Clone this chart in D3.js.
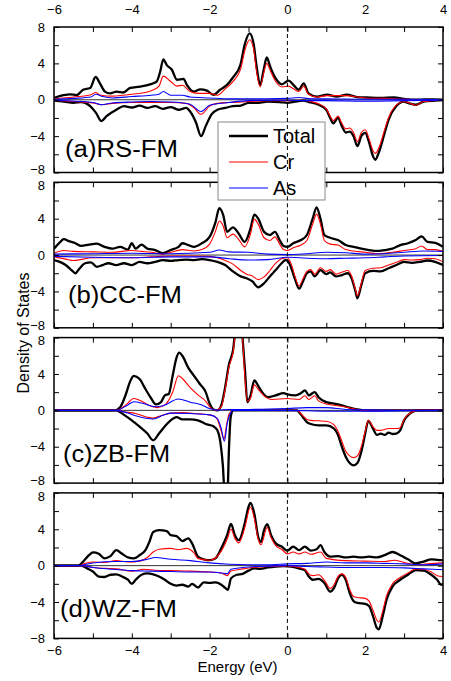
<!DOCTYPE html>
<html><head><meta charset="utf-8">
<script src="https://cdn.jsdelivr.net/npm/d3@7/dist/d3.min.js"></script>
<style>
body{margin:0;background:#fff}
svg{display:block}
text{font-family:"Liberation Sans",Arial,Helvetica,sans-serif;fill:#000}
</style>
</head><body>
<svg id="chart" width="451" height="681"></svg>
<script>
// ---------- DATA (energy in eV, DOS in states/eV) ----------
const xTicks = [-6,-4,-2,0,2,4];
const yTicks = [-8,-4,0,4,8];
const panelLabels = ["(a)RS-FM","(b)CC-FM","(c)ZB-FM","(d)WZ-FM"];
const legendNames = ["Total","Cr","As"];

// (a) RS-FM
const rsTotalUp = [[-6,0.2],[-5.76,0.5],[-5.59,0.6],[-5.42,0.5],[-5.25,1.1],[-5.07,1.3],[-4.93,2.5],[-4.82,1.8],[-4.69,0.9],[-4.56,0.7],[-4.39,0.9],[-4.22,0.8],[-4.04,1.3],[-3.79,1.45],[-3.53,1.7],[-3.36,2.0],[-3.27,3.1],[-3.19,4.45],[-3.1,3.8],[-2.97,3.3],[-2.84,2.2],[-2.67,2.3],[-2.58,1.6],[-2.41,0.9],[-2.24,1.15],[-2.07,1.0],[-1.9,0.55],[-1.73,1.1],[-1.56,1.6],[-1.39,2.5],[-1.21,3.8],[-1.09,6.2],[-0.97,7.3],[-0.87,6.2],[-0.79,3.6],[-0.7,1.6],[-0.61,3.3],[-0.53,4.65],[-0.44,3.6],[-0.31,2.4],[-0.14,1.7],[0.03,2.1],[0.16,1.6],[0.29,1.1],[0.42,1.8],[0.54,0.7],[0.76,0.35],[1.02,0.55],[1.27,0.35],[1.53,0.55],[1.79,0.3],[2.05,0.25],[2.39,0.2],[2.73,0.25],[2.99,0.1],[3.33,0],[3.76,0.05],[4,0]];
const rsCrUp = [[-6,0.1],[-5.5,0.3],[-5.05,0.55],[-4.93,0.8],[-4.8,0.5],[-4.5,0.4],[-4.0,0.6],[-3.5,1.0],[-3.3,1.5],[-3.19,2.6],[-3.0,2.0],[-2.84,1.5],[-2.7,1.6],[-2.5,0.9],[-2.3,0.7],[-2.0,0.7],[-1.8,0.5],[-1.6,1.2],[-1.4,2.0],[-1.2,3.4],[-1.09,5.5],[-0.97,6.6],[-0.87,5.6],[-0.79,3.0],[-0.7,1.4],[-0.61,2.9],[-0.53,4.0],[-0.44,3.2],[-0.3,2.0],[-0.14,1.4],[0.03,1.5],[0.16,1.2],[0.29,0.9],[0.42,1.5],[0.54,0.6],[0.76,0.3],[1.0,0.45],[1.5,0.45],[2.0,0.2],[2.5,0.15],[3.0,0.05],[4,0]];
const rsAsUp = [[-6,0.05],[-5.5,0.15],[-5.05,0.3],[-4.93,0.6],[-4.75,0.35],[-4.5,0.2],[-4.0,0.35],[-3.5,0.5],[-3.3,0.6],[-3.19,0.9],[-3.0,0.5],[-2.7,0.5],[-2.5,0.3],[-2.0,0.2],[-1.5,0.1],[-1.0,0.1],[-0.5,0.1],[0,0.15],[0.3,0.25],[0.6,0.1],[1.0,0.1],[2.0,0.05],[3.0,0.05],[4,0]];
const rsTotalDn = [[-6,-0.1],[-5.75,-0.2],[-5.5,-0.35],[-5.3,-0.25],[-5.07,-0.7],[-4.92,-1.45],[-4.78,-2.35],[-4.65,-1.8],[-4.4,-1.1],[-4.2,-0.7],[-4.0,-0.85],[-3.8,-0.65],[-3.6,-0.9],[-3.4,-0.7],[-3.2,-1.0],[-3.0,-0.8],[-2.8,-1.1],[-2.6,-0.9],[-2.5,-1.3],[-2.35,-2.5],[-2.22,-4.0],[-2.1,-2.9],[-1.95,-1.6],[-1.8,-1.1],[-1.6,-0.9],[-1.4,-0.7],[-1.2,-0.65],[-1.0,-0.35],[-0.8,-0.35],[-0.5,-0.2],[-0.2,-0.25],[0,-0.35],[0.2,-0.2],[0.4,-0.1],[0.6,-0.3],[0.8,-0.55],[1.0,-1.1],[1.1,-2.0],[1.18,-2.6],[1.3,-2.0],[1.4,-2.9],[1.5,-3.6],[1.6,-3.5],[1.7,-4.0],[1.8,-5.1],[1.9,-4.0],[2.0,-3.65],[2.1,-4.7],[2.2,-6.2],[2.26,-6.6],[2.35,-5.8],[2.5,-3.65],[2.6,-2.2],[2.8,-0.7],[3.0,-0.2],[3.1,-0.35],[3.3,-0.55],[3.5,-0.2],[3.8,-0.1],[4,-0.05]];
const rsCrDn = [[-6,-0.05],[-5.5,-0.2],[-5.0,-0.35],[-4.78,-0.55],[-4.5,-0.4],[-4.0,-0.3],[-3.5,-0.3],[-3.0,-0.3],[-2.6,-0.4],[-2.4,-0.9],[-2.22,-1.6],[-2.0,-0.7],[-1.8,-0.4],[-1.5,-0.3],[-1.0,-0.2],[-0.5,-0.1],[0,-0.1],[0.4,-0.05],[0.6,-0.2],[0.8,-0.45],[1.0,-1.0],[1.1,-1.8],[1.18,-2.3],[1.3,-1.8],[1.4,-2.6],[1.5,-3.2],[1.6,-3.1],[1.7,-3.6],[1.8,-4.6],[1.9,-3.6],[2.0,-3.3],[2.1,-4.3],[2.2,-5.6],[2.26,-5.9],[2.35,-5.3],[2.5,-3.3],[2.6,-2.0],[2.8,-0.6],[3.0,-0.2],[3.1,-0.3],[3.3,-0.6],[3.5,-0.2],[4,-0.05]];
const rsAsDn = [[-6,-0.05],[-5.0,-0.3],[-4.78,-0.55],[-4.5,-0.35],[-4.0,-0.25],[-3.5,-0.2],[-3.0,-0.25],[-2.5,-0.5],[-2.22,-1.3],[-2.0,-0.6],[-1.5,-0.3],[-1.0,-0.1],[0,-0.05],[0.5,-0.1],[1.0,-0.1],[2.0,-0.15],[3.0,-0.1],[4,-0.05]];

// (b) CC-FM
const ccTotalUp = [[-6,0.7],[-5.85,1.4],[-5.75,1.75],[-5.6,1.5],[-5.45,1.3],[-5.3,1.0],[-5.1,1.15],[-4.9,1.25],[-4.7,0.9],[-4.5,0.7],[-4.3,0.9],[-4.1,0.6],[-4.0,1.3],[-3.9,0.7],[-3.75,1.15],[-3.6,0.7],[-3.4,0.55],[-3.2,0.2],[-3.0,0.55],[-2.8,0.9],[-2.7,1.3],[-2.55,1.1],[-2.4,0.9],[-2.2,1.3],[-2.0,2.0],[-1.85,3.6],[-1.75,5.15],[-1.65,4.4],[-1.55,2.55],[-1.4,3.05],[-1.25,2.35],[-1.1,1.45],[-0.95,2.9],[-0.85,4.45],[-0.75,4.0],[-0.6,2.55],[-0.45,2.2],[-0.32,2.55],[-0.2,1.65],[-0.1,1.0],[0,0.9],[0.15,1.3],[0.35,1.65],[0.5,2.2],[0.65,4.0],[0.75,5.25],[0.85,4.0],[0.95,2.2],[1.1,1.9],[1.3,1.65],[1.5,1.1],[1.7,0.9],[1.9,0.7],[2.1,0.55],[2.3,0.45],[2.5,0.55],[2.7,0.7],[2.9,1.1],[3.1,1.3],[3.3,1.65],[3.45,2.05],[3.6,1.45],[3.8,1.35],[4,0.9]];
const ccCrUp = [[-6,0.2],[-5.75,0.5],[-5.5,0.4],[-5.0,0.35],[-4.5,0.3],[-4.0,0.5],[-3.75,0.4],[-3.5,0.3],[-3.2,0.1],[-3.0,0.3],[-2.7,0.6],[-2.4,0.45],[-2.2,0.6],[-2.0,1.2],[-1.85,2.6],[-1.75,3.75],[-1.65,3.2],[-1.55,1.9],[-1.4,2.3],[-1.25,1.7],[-1.1,0.9],[-0.95,2.3],[-0.85,3.95],[-0.75,3.4],[-0.6,1.9],[-0.45,1.6],[-0.32,2.0],[-0.2,1.2],[-0.1,0.6],[0,0.5],[0.15,0.8],[0.35,1.1],[0.5,1.6],[0.65,3.4],[0.75,4.5],[0.85,3.4],[0.95,1.6],[1.1,1.2],[1.3,1.1],[1.5,0.6],[1.7,0.45],[2.0,0.3],[2.3,0.15],[2.5,0.2],[2.7,0.3],[3.0,0.5],[3.3,0.7],[3.45,1.0],[3.6,0.6],[3.8,0.6],[4,0.4]];
const ccAsUp = [[-6,0.1],[-5.0,0.15],[-4.0,0.2],[-3.0,0.15],[-2.0,0.3],[-1.75,0.55],[-1.5,0.35],[-1.0,0.3],[-0.5,0.1],[0,0.05],[0.5,0.15],[1.0,0.3],[1.5,0.25],[2.0,0.1],[2.5,0.15],[3.0,0.3],[3.5,0.45],[4,0.4]];
const ccTotalDn = [[-6,-0.55],[-5.85,-0.75],[-5.7,-1.1],[-5.55,-1.65],[-5.45,-2.0],[-5.35,-1.5],[-5.2,-0.9],[-5.05,-0.8],[-4.9,-1.3],[-4.75,-1.1],[-4.6,-0.9],[-4.4,-1.1],[-4.2,-0.9],[-4.0,-1.1],[-3.8,-0.75],[-3.6,-0.9],[-3.4,-0.75],[-3.2,-0.55],[-3.0,-0.65],[-2.8,-0.55],[-2.6,-0.5],[-2.4,-0.55],[-2.2,-0.45],[-2.0,-0.55],[-1.8,-0.75],[-1.6,-1.1],[-1.4,-1.8],[-1.2,-2.35],[-1.05,-2.55],[-0.9,-2.9],[-0.75,-3.55],[-0.6,-3.1],[-0.45,-2.35],[-0.3,-1.65],[-0.15,-0.9],[-0.05,-0.55],[0,-0.6],[0.1,-1.45],[0.2,-2.7],[0.3,-3.7],[0.4,-2.9],[0.5,-2.0],[0.6,-1.8],[0.7,-2.35],[0.85,-1.65],[1.0,-2.1],[1.1,-1.9],[1.25,-2.35],[1.4,-2.2],[1.55,-2.0],[1.65,-2.55],[1.75,-4.0],[1.8,-4.75],[1.9,-3.3],[2.0,-2.0],[2.2,-1.75],[2.4,-1.8],[2.6,-1.45],[2.8,-1.1],[3.0,-0.75],[3.2,-0.85],[3.4,-0.75],[3.6,-0.6],[3.8,-0.75],[4,-1.1]];
const ccCrDn = [[-6,-0.2],[-5.7,-0.45],[-5.5,-0.6],[-5.0,-0.3],[-4.5,-0.3],[-4.0,-0.3],[-3.5,-0.2],[-3.0,-0.1],[-2.5,-0.1],[-2.0,-0.15],[-1.8,-0.3],[-1.6,-0.6],[-1.4,-1.0],[-1.2,-1.7],[-1.05,-2.1],[-0.9,-2.3],[-0.75,-2.7],[-0.6,-2.4],[-0.45,-1.7],[-0.3,-0.9],[-0.15,-0.4],[0,-0.3],[0.1,-1.0],[0.2,-2.4],[0.3,-3.4],[0.4,-2.6],[0.5,-1.8],[0.6,-1.6],[0.7,-2.1],[0.85,-1.4],[1.0,-1.8],[1.1,-1.6],[1.25,-2.1],[1.4,-1.9],[1.55,-1.7],[1.65,-2.3],[1.75,-3.8],[1.8,-4.5],[1.9,-3.1],[2.0,-1.7],[2.2,-1.45],[2.4,-1.4],[2.6,-1.1],[2.8,-0.8],[3.0,-0.5],[3.2,-0.55],[3.4,-0.5],[3.6,-0.35],[3.8,-0.4],[4,-0.75]];
const ccAsDn = [[-6,-0.15],[-5.0,-0.25],[-4.0,-0.3],[-3.0,-0.2],[-2.0,-0.2],[-1.5,-0.4],[-1.0,-0.55],[-0.5,-0.5],[0,-0.25],[0.5,-0.35],[1.0,-0.4],[1.5,-0.35],[2.0,-0.3],[2.5,-0.2],[3.0,-0.1],[4,-0.05]];

// (c) ZB-FM
const zbTotalUp = [[-6,0],[-4.45,0],[-4.3,0.35],[-4.15,1.8],[-4.05,3.1],[-3.95,3.8],[-3.8,3.45],[-3.65,2.35],[-3.5,1.3],[-3.38,0.65],[-3.25,0.9],[-3.15,1.65],[-3.05,1.8],[-2.95,3.8],[-2.85,5.8],[-2.78,6.35],[-2.7,6.0],[-2.55,4.7],[-2.4,3.8],[-2.25,2.9],[-2.1,2.0],[-2.0,0.75],[-1.9,0.1],[-1.8,0],[-1.7,0.55],[-1.6,2.55],[-1.5,5.1],[-1.4,6.55],[-1.3,10],[-1.2,10.5],[-1.15,7.8],[-1.09,4.4],[-1.03,0.9],[-0.95,1.6],[-0.85,3.3],[-0.75,2.7],[-0.65,2.0],[-0.5,1.45],[-0.3,1.65],[-0.1,1.9],[0,1.75],[0.2,1.65],[0.35,1.9],[0.45,2.2],[0.55,1.65],[0.7,2.0],[0.8,1.45],[1.0,0.9],[1.2,0.75],[1.4,0.55],[1.6,0.3],[1.8,0.1],[2.0,0],[4,0]];
const zbCrUp = [[-6,0],[-4.4,0],[-4.15,0.6],[-3.95,1.3],[-3.8,1.1],[-3.5,0.45],[-3.35,0.3],[-3.15,0.6],[-2.95,2.0],[-2.8,3.8],[-2.7,3.5],[-2.5,2.5],[-2.3,1.7],[-2.1,1.0],[-2.0,0.4],[-1.85,0],[-1.7,0.4],[-1.6,2.3],[-1.5,4.8],[-1.4,6.3],[-1.32,9],[-1.2,10],[-1.14,7],[-1.09,3.5],[-1.03,1.0],[-0.95,1.3],[-0.85,2.8],[-0.75,2.3],[-0.6,1.6],[-0.4,1.2],[0,1.3],[0.3,1.2],[0.45,1.6],[0.55,1.2],[0.7,1.6],[0.8,1.05],[1.0,0.7],[1.4,0.45],[1.8,0.1],[2.0,0],[4,0]];
const zbAsUp = [[-6,0],[-4.4,0],[-4.1,0.6],[-3.95,0.95],[-3.7,0.75],[-3.4,0.4],[-3.2,0.5],[-2.8,1.25],[-2.5,0.9],[-2.2,0.6],[-2.0,0.2],[-1.8,0.02],[-1.5,0.1],[-1.0,0.1],[0,0.2],[0.5,0.3],[1.0,0.3],[1.5,0.1],[2.0,0.05],[3.0,0],[4,0]];
const zbTotalDn = [[-6,0],[-4.4,0],[-4.2,-0.5],[-4.0,-1.1],[-3.8,-1.8],[-3.6,-2.55],[-3.45,-3.3],[-3.3,-2.55],[-3.15,-1.75],[-3.0,-1.1],[-2.85,-0.75],[-2.7,-1.0],[-2.5,-1.0],[-2.3,-1.1],[-2.1,-1.5],[-1.9,-1.75],[-1.8,-2.2],[-1.72,-3.6],[-1.66,-6],[-1.6,-10],[-1.55,-10],[-1.5,-4],[-1.46,-0.8],[-1.4,0],[0.25,0],[0.3,-0.2],[0.4,-0.75],[0.5,-1.3],[0.6,-1.5],[0.8,-1.65],[1.0,-1.65],[1.2,-2.0],[1.3,-2.7],[1.4,-4.0],[1.5,-5.1],[1.6,-5.8],[1.7,-6.05],[1.8,-5.8],[1.9,-4.55],[2.0,-2.55],[2.08,-1.15],[2.2,-2.0],[2.3,-2.7],[2.4,-2.55],[2.5,-2.7],[2.6,-2.45],[2.7,-2.6],[2.8,-2.55],[2.9,-2.2],[3.0,-1.1],[3.1,-0.55],[3.2,-0.2],[3.35,0],[4,0]];
const zbCrDn = [[-6,0],[-4.4,0],[-4.2,-0.15],[-3.9,-0.35],[-3.6,-0.75],[-3.45,-0.85],[-3.3,-0.65],[-3.0,-0.3],[-2.7,-0.25],[-2.4,-0.35],[-2.1,-0.45],[-1.9,-0.6],[-1.8,-1.0],[-1.7,-2.3],[-1.63,-3.2],[-1.56,-1.5],[-1.5,-0.4],[-1.44,-0.1],[-1.4,0],[0.25,0],[0.3,-0.15],[0.4,-0.6],[0.5,-1.0],[0.6,-1.1],[0.8,-1.15],[1.0,-1.2],[1.2,-1.6],[1.3,-2.3],[1.4,-3.4],[1.5,-4.5],[1.6,-5.0],[1.7,-5.2],[1.8,-5.0],[1.9,-4.0],[2.0,-2.3],[2.08,-1.1],[2.2,-1.8],[2.3,-2.2],[2.4,-2.2],[2.5,-2.1],[2.6,-2.0],[2.7,-2.0],[2.8,-2.0],[2.9,-1.9],[3.0,-1.0],[3.1,-0.5],[3.2,-0.2],[3.35,0],[4,0]];
const zbAsDn = [[-6,0],[-4.4,0],[-4.1,-0.3],[-3.9,-0.6],[-3.6,-0.9],[-3.45,-0.95],[-3.2,-0.55],[-3.0,-0.3],[-2.5,-0.35],[-2.0,-0.5],[-1.8,-0.9],[-1.7,-2.0],[-1.62,-3.4],[-1.55,-1.5],[-1.45,-0.2],[-1.4,0],[0,0],[0.5,-0.05],[1.0,-0.1],[2.0,-0.1],[3.0,-0.05],[4,0]];

// (d) WZ-FM
const wzTotalUp = [[-6,0],[-5.38,0],[-5.25,0.45],[-5.1,1.15],[-5.0,1.45],[-4.85,1.3],[-4.7,0.8],[-4.55,1.05],[-4.4,1.7],[-4.25,1.3],[-4.1,0.9],[-3.95,0.8],[-3.8,1.15],[-3.65,1.7],[-3.55,2.6],[-3.45,3.7],[-3.3,3.9],[-3.1,3.8],[-3.0,3.35],[-2.85,3.25],[-2.7,2.7],[-2.55,3.0],[-2.45,2.45],[-2.3,1.0],[-2.15,0.7],[-2.0,0.6],[-1.85,0.8],[-1.7,1.9],[-1.55,3.35],[-1.45,4.6],[-1.35,3.35],[-1.25,2.8],[-1.1,4.6],[-1.0,6.45],[-0.95,6.9],[-0.85,5.7],[-0.75,3.15],[-0.68,2.6],[-0.6,3.9],[-0.52,4.55],[-0.42,3.35],[-0.3,2.45],[-0.15,2.1],[0,1.65],[0.15,2.1],[0.3,1.7],[0.45,2.1],[0.6,1.65],[0.75,1.8],[0.85,2.25],[0.95,1.5],[1.1,1.0],[1.3,1.05],[1.5,0.9],[1.7,1.0],[1.9,0.9],[2.1,1.0],[2.3,0.9],[2.5,1.15],[2.7,1.5],[2.9,1.15],[3.1,0.7],[3.3,0.25],[3.5,0.45],[3.7,0.7],[3.9,0.6],[4,0.6]];
const wzCrUp = [[-6,0],[-5.38,0],[-5.2,0.25],[-5.0,0.4],[-4.7,0.35],[-4.4,0.55],[-4.1,0.4],[-3.8,0.5],[-3.6,0.9],[-3.45,1.5],[-3.3,1.8],[-3.0,1.9],[-2.8,1.75],[-2.6,1.9],[-2.4,1.4],[-2.3,0.8],[-2.0,0.6],[-1.7,1.6],[-1.55,2.9],[-1.45,4.0],[-1.35,3.0],[-1.25,2.5],[-1.1,4.1],[-0.95,6.45],[-0.85,5.2],[-0.75,2.9],[-0.68,2.3],[-0.52,4.2],[-0.42,3.1],[-0.3,2.2],[-0.15,1.8],[0,1.3],[0.15,1.5],[0.3,1.3],[0.45,1.5],[0.6,1.25],[0.85,1.5],[1.0,0.8],[1.5,0.55],[2.0,0.5],[2.5,0.45],[2.75,0.6],[3.0,0.35],[3.3,0.1],[3.6,0.2],[4,0.3]];
const wzAsUp = [[-6,0],[-5.38,0],[-5.0,0.3],[-4.4,0.45],[-4.0,0.45],[-3.6,0.7],[-3.4,0.9],[-3.0,0.7],[-2.5,0.55],[-2.0,0.3],[-1.5,0.15],[-1.0,0.1],[-0.5,0.1],[0,0.2],[0.5,0.25],[1.0,0.4],[1.5,0.3],[2.0,0.3],[2.5,0.25],[3.0,0.2],[3.5,0.1],[4,0.2]];
const wzTotalDn = [[-6,0],[-5.3,0],[-5.15,-0.3],[-5.0,-0.65],[-4.85,-1.2],[-4.7,-1.25],[-4.55,-1.0],[-4.4,-0.95],[-4.25,-1.2],[-4.1,-1.55],[-4.0,-2.0],[-3.9,-1.55],[-3.75,-1.0],[-3.6,-0.85],[-3.45,-0.95],[-3.3,-1.2],[-3.15,-1.55],[-3.0,-2.0],[-2.85,-2.2],[-2.7,-2.1],[-2.55,-2.3],[-2.45,-2.0],[-2.3,-2.4],[-2.15,-1.85],[-2.0,-1.9],[-1.85,-1.85],[-1.7,-2.1],[-1.6,-2.45],[-1.53,-2.65],[-1.45,-1.4],[-1.3,-1.0],[-1.15,-0.9],[-1.0,-0.55],[-0.85,-0.3],[-0.7,-0.35],[-0.5,-0.2],[-0.3,-0.1],[-0.1,-0.05],[0.1,-0.1],[0.3,-0.3],[0.45,-0.5],[0.55,-1.2],[0.65,-1.55],[0.8,-1.45],[0.95,-1.9],[1.1,-2.85],[1.2,-2.45],[1.3,-1.4],[1.4,-1.0],[1.5,-1.55],[1.6,-3.0],[1.7,-3.9],[1.8,-4.1],[2.0,-4.2],[2.1,-4.45],[2.2,-5.55],[2.3,-6.85],[2.35,-7.0],[2.45,-5.55],[2.55,-3.75],[2.7,-2.3],[2.9,-1.55],[3.1,-1.0],[3.3,-0.5],[3.5,-0.55],[3.7,-1.0],[3.85,-1.55],[3.95,-2.1],[4,-2.0]];
const wzCrDn = [[-6,0],[-5.3,0],[-5.0,-0.2],[-4.7,-0.3],[-4.4,-0.35],[-4.0,-0.6],[-3.7,-0.4],[-3.4,-0.5],[-3.0,-0.55],[-2.5,-0.6],[-2.0,-0.7],[-1.7,-0.8],[-1.55,-1.1],[-1.45,-0.6],[-1.2,-0.4],[-1.0,-0.25],[-0.5,-0.1],[0,-0.05],[0.3,-0.2],[0.45,-0.4],[0.55,-0.9],[0.65,-1.1],[0.8,-1.0],[0.95,-1.6],[1.1,-2.5],[1.2,-2.1],[1.3,-1.2],[1.4,-0.9],[1.5,-1.3],[1.6,-2.6],[1.7,-3.4],[1.8,-3.5],[2.0,-3.6],[2.1,-3.9],[2.2,-4.9],[2.3,-6.0],[2.35,-6.2],[2.45,-5.0],[2.55,-3.3],[2.7,-2.0],[2.9,-1.3],[3.1,-0.8],[3.3,-0.35],[3.5,-0.4],[3.7,-0.7],[3.85,-1.1],[4,-1.2]];
const wzAsDn = [[-6,0],[-5.3,0],[-5.0,-0.2],[-4.5,-0.4],[-4.0,-0.55],[-3.5,-0.6],[-3.0,-0.65],[-2.5,-0.7],[-2.0,-0.7],[-1.7,-0.8],[-1.55,-0.9],[-1.45,-0.4],[-1.0,-0.15],[-0.5,-0.05],[0,0],[0.5,-0.1],[1.0,-0.15],[1.5,-0.2],[2.0,-0.2],[2.5,-0.2],[3.0,-0.25],[3.5,-0.35],[4,-0.45]];

// ---------- LAYOUT ----------
const panels = [
  {label: panelLabels[0], total:[rsTotalUp,rsTotalDn], cr:[rsCrUp,rsCrDn], as:[rsAsUp,rsAsDn], lx: 65, lw: 113, labelDy: 57},
  {label: panelLabels[1], total:[ccTotalUp,ccTotalDn], cr:[ccCrUp,ccCrDn], as:[ccAsUp,ccAsDn], lx: 68, lw: 114, labelDy: 48},
  {label: panelLabels[2], total:[zbTotalUp,zbTotalDn], cr:[zbCrUp,zbCrDn], as:[zbAsUp,zbAsDn], lx: 63, lw: 107, labelDy: 52},
  {label: panelLabels[3], total:[wzTotalUp,wzTotalDn], cr:[wzCrUp,wzCrDn], as:[wzAsUp,wzAsDn], lx: 60, lw: 117, labelDy: 51}
];
const left = 54, right = 443;
const panelTop0 = 27, panelH = 145.5, panelStep = 155.3;
const colors = {total:"#000", cr:"#ff0000", as:"#0000ff"};
const widths = {total:2.3, cr:1.1, as:1.1};

const svg = d3.select("#chart");
const x = d3.scaleLinear().domain([-6,4]).range([left,right]);
const line = (ys) => d3.line().x(d=>x(d[0])).y(d=>ys(d[1])).curve(d3.curveMonotoneX);

panels.forEach((p,i)=>{
  const top = panelTop0 + i*panelStep, bot = top + panelH;
  const y = d3.scaleLinear().domain([-8,8]).range([bot, top]);
  const g = svg.append("g");
  const cid = "clip"+i;
  svg.append("clipPath").attr("id",cid).append("rect")
    .attr("x",left).attr("y",top).attr("width",right-left).attr("height",panelH);

  // zero line
  g.append("line").attr("x1",left).attr("x2",right).attr("y1",y(0)).attr("y2",y(0))
    .attr("stroke","#333").attr("stroke-width",1);

  const dg = g.append("g").attr("clip-path",`url(#${cid})`);
  ["total","cr","as"].forEach(k=>{
    p[k].forEach(series=>{
      dg.append("path").datum(series).attr("d",line(y))
        .attr("fill","none").attr("stroke",colors[k]).attr("stroke-width",widths[k])
        .attr("stroke-linejoin","round");
    });
  });

  // axes (inward ticks)
  const ax = (axis, tr, showLabels, pad) => {
    const a = g.append("g").attr("transform",tr).call(axis.tickPadding(pad));
    a.select(".domain").remove();
    a.selectAll(".tick line").attr("stroke","#000").attr("stroke-width",1);
    a.selectAll("text").attr("font-size",13).attr("font-family","Liberation Sans, Arial, sans-serif").attr("fill","#000");
    if(!showLabels) a.selectAll("text").remove();
    return a;
  };
  const xAll = d3.range(-6,4.01,1);
  const xfmt = v => (xTicks.includes(v) ? d3.format("d")(v) : "");
  ax(d3.axisBottom(x).tickValues(xAll).tickSize(-5).tickFormat(xfmt), `translate(0,${bot})`, i===3, 7);
  ax(d3.axisTop(x).tickValues(xAll).tickSize(-5).tickFormat(xfmt), `translate(0,${top})`, i===0, 13);
  const yAll = d3.range(-8,8.01,2);
  const yfmt = v => (yTicks.includes(v) ? d3.format("d")(v) : "");
  const ya = ax(d3.axisLeft(y).tickValues(yAll).tickSize(-5).tickFormat(yfmt), `translate(${left},0)`, true, 9);
  // nudge the stacked end labels apart slightly, as in the reference
  ya.selectAll(".tick text").filter(d=>d===-8 && i<3).attr("dy","0.1em");
  ya.selectAll(".tick text").filter(d=>d===8 && i>0).attr("dy","0.55em");
  ax(d3.axisRight(y).tickValues(yAll).tickSize(-5).tickFormat(yfmt), `translate(${right},0)`, false, 5);

  // frame
  g.append("rect").attr("x",left).attr("y",top).attr("width",right-left).attr("height",panelH)
    .attr("fill","none").attr("stroke","#000").attr("stroke-width",1.5);

  // panel label
  g.append("text").attr("x",p.lx).attr("y",y(0)+p.labelDy).attr("font-size",23)
    .attr("textLength",p.lw).attr("lengthAdjust","spacingAndGlyphs").text(p.label);
  p.top = top; p.bot = bot;
});

// legend
const lg = svg.append("g").attr("transform","translate(218,122)");
lg.append("rect").attr("width",107).attr("height",78).attr("fill","#fff").attr("stroke","#888").attr("stroke-width",1);
legendNames.forEach((n,j)=>{
  const k = ["total","cr","as"][j];
  const yy = 14 + j*26;
  lg.append("line").attr("x1",11).attr("x2",50).attr("y1",yy).attr("y2",yy)
    .attr("stroke",colors[k]).attr("stroke-width",widths[k]);
  lg.append("text").attr("x",55).attr("y",yy+7).attr("font-size",20).text(n);
});

// Fermi level dashed lines
panels.forEach(p=>{
  svg.append("line").attr("x1",x(0)).attr("x2",x(0)).attr("y1",p.top).attr("y2",p.bot)
    .attr("stroke","#000").attr("stroke-width",1).attr("stroke-dasharray","4,3");
});

// axis titles
svg.append("text").attr("x",(left+right)/2 - 11).attr("y",672).attr("text-anchor","middle")
  .attr("font-size",15).text("Energy (eV)");
svg.append("text").attr("transform","translate(29,333) rotate(-90)").attr("text-anchor","middle")
  .attr("font-size",16).text("Density of States");
</script>
</body></html>
